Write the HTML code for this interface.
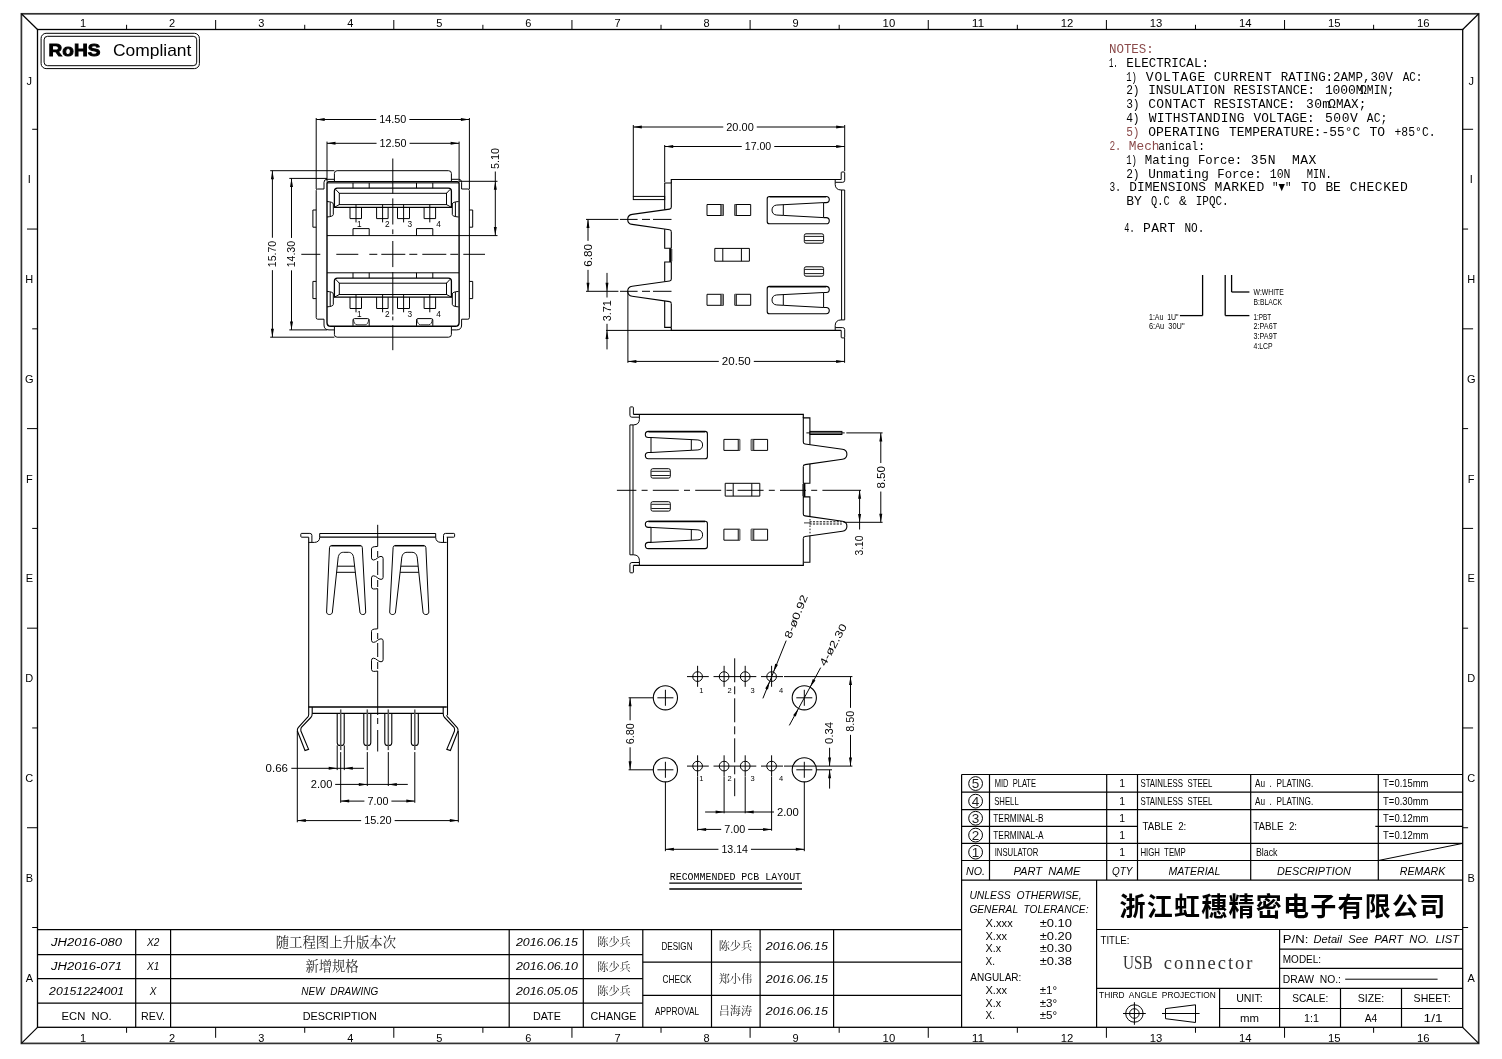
<!DOCTYPE html>
<html><head><meta charset="utf-8"><title>USB connector drawing</title>
<style>
html,body{margin:0;padding:0;background:#fff;}
body{width:1502px;height:1059px;overflow:hidden;}
svg{display:block;will-change:transform;opacity:0.999;}
svg .ar{fill:#000;stroke:none;}
svg text{font-family:"Liberation Sans",sans-serif;fill:#000;stroke:none;white-space:pre;}
svg .d{font-family:"Liberation Sans",sans-serif;}
svg .m{font-family:"Liberation Mono",monospace;}
svg .i{font-style:italic;}
svg .s{font-family:"Liberation Serif","Noto Serif CJK SC",serif;}
svg .c{font-family:"Liberation Serif","Noto Serif CJK SC",serif;fill:#222;}
svg .k{font-family:"Liberation Sans","Noto Sans CJK SC",sans-serif;font-weight:bold;}
svg .b{font-weight:bold;}
</style></head><body>
<svg width="1502" height="1059" viewBox="0 0 1502 1059">
<g stroke="#000" stroke-width="1" fill="none">
<g id="frame">
<rect x="21.4" y="13.8" width="1457.3" height="1029.6" style="stroke:#333;stroke-width:1.7"/>
<rect x="37.5" y="29.5" width="1425.2" height="997.8" stroke-width="1.3"/>
<line x1="21.4" y1="13.8" x2="37.5" y2="29.5" stroke-width="1.2"/>
<line x1="1478.7" y1="13.8" x2="1462.7" y2="29.5" stroke-width="1.2"/>
<line x1="21.4" y1="1043.4" x2="37.5" y2="1027.3" stroke-width="1.2"/>
<line x1="1478.7" y1="1043.4" x2="1462.7" y2="1027.3" stroke-width="1.2"/>
<line x1="126.58" y1="24.8" x2="126.58" y2="29.5"/>
<line x1="126.58" y1="1027.3" x2="126.58" y2="1032.8"/>
<line x1="215.65" y1="20" x2="215.65" y2="29.5"/>
<line x1="215.65" y1="1027.3" x2="215.65" y2="1037.8"/>
<line x1="304.73" y1="24.8" x2="304.73" y2="29.5"/>
<line x1="304.73" y1="1027.3" x2="304.73" y2="1032.8"/>
<line x1="393.8" y1="20" x2="393.8" y2="29.5"/>
<line x1="393.8" y1="1027.3" x2="393.8" y2="1037.8"/>
<line x1="482.88" y1="24.8" x2="482.88" y2="29.5"/>
<line x1="482.88" y1="1027.3" x2="482.88" y2="1032.8"/>
<line x1="571.95" y1="20" x2="571.95" y2="29.5"/>
<line x1="571.95" y1="1027.3" x2="571.95" y2="1037.8"/>
<line x1="661.02" y1="24.8" x2="661.02" y2="29.5"/>
<line x1="661.02" y1="1027.3" x2="661.02" y2="1032.8"/>
<line x1="750.1" y1="20" x2="750.1" y2="29.5"/>
<line x1="750.1" y1="1027.3" x2="750.1" y2="1037.8"/>
<line x1="839.18" y1="24.8" x2="839.18" y2="29.5"/>
<line x1="839.18" y1="1027.3" x2="839.18" y2="1032.8"/>
<line x1="928.25" y1="20" x2="928.25" y2="29.5"/>
<line x1="928.25" y1="1027.3" x2="928.25" y2="1037.8"/>
<line x1="1017.33" y1="24.8" x2="1017.33" y2="29.5"/>
<line x1="1017.33" y1="1027.3" x2="1017.33" y2="1032.8"/>
<line x1="1106.4" y1="20" x2="1106.4" y2="29.5"/>
<line x1="1106.4" y1="1027.3" x2="1106.4" y2="1037.8"/>
<line x1="1195.48" y1="24.8" x2="1195.48" y2="29.5"/>
<line x1="1195.48" y1="1027.3" x2="1195.48" y2="1032.8"/>
<line x1="1284.55" y1="20" x2="1284.55" y2="29.5"/>
<line x1="1284.55" y1="1027.3" x2="1284.55" y2="1037.8"/>
<line x1="1373.62" y1="24.8" x2="1373.62" y2="29.5"/>
<line x1="1373.62" y1="1027.3" x2="1373.62" y2="1032.8"/>
<text x="83.04" y="27.3" font-size="11" text-anchor="middle">1</text>
<text x="83.04" y="1041.8" font-size="11" text-anchor="middle">1</text>
<text x="172.11" y="27.3" font-size="11" text-anchor="middle">2</text>
<text x="172.11" y="1041.8" font-size="11" text-anchor="middle">2</text>
<text x="261.19" y="27.3" font-size="11" text-anchor="middle">3</text>
<text x="261.19" y="1041.8" font-size="11" text-anchor="middle">3</text>
<text x="350.26" y="27.3" font-size="11" text-anchor="middle">4</text>
<text x="350.26" y="1041.8" font-size="11" text-anchor="middle">4</text>
<text x="439.34" y="27.3" font-size="11" text-anchor="middle">5</text>
<text x="439.34" y="1041.8" font-size="11" text-anchor="middle">5</text>
<text x="528.41" y="27.3" font-size="11" text-anchor="middle">6</text>
<text x="528.41" y="1041.8" font-size="11" text-anchor="middle">6</text>
<text x="617.49" y="27.3" font-size="11" text-anchor="middle">7</text>
<text x="617.49" y="1041.8" font-size="11" text-anchor="middle">7</text>
<text x="706.56" y="27.3" font-size="11" text-anchor="middle">8</text>
<text x="706.56" y="1041.8" font-size="11" text-anchor="middle">8</text>
<text x="795.64" y="27.3" font-size="11" text-anchor="middle">9</text>
<text x="795.64" y="1041.8" font-size="11" text-anchor="middle">9</text>
<text x="888.91" y="27.3" font-size="11" text-anchor="middle" textLength="12.6" lengthAdjust="spacingAndGlyphs">10</text>
<text x="888.91" y="1041.8" font-size="11" text-anchor="middle" textLength="12.6" lengthAdjust="spacingAndGlyphs">10</text>
<text x="977.99" y="27.3" font-size="11" text-anchor="middle" textLength="12.6" lengthAdjust="spacingAndGlyphs">11</text>
<text x="977.99" y="1041.8" font-size="11" text-anchor="middle" textLength="12.6" lengthAdjust="spacingAndGlyphs">11</text>
<text x="1067.06" y="27.3" font-size="11" text-anchor="middle" textLength="12.6" lengthAdjust="spacingAndGlyphs">12</text>
<text x="1067.06" y="1041.8" font-size="11" text-anchor="middle" textLength="12.6" lengthAdjust="spacingAndGlyphs">12</text>
<text x="1156.14" y="27.3" font-size="11" text-anchor="middle" textLength="12.6" lengthAdjust="spacingAndGlyphs">13</text>
<text x="1156.14" y="1041.8" font-size="11" text-anchor="middle" textLength="12.6" lengthAdjust="spacingAndGlyphs">13</text>
<text x="1245.21" y="27.3" font-size="11" text-anchor="middle" textLength="12.6" lengthAdjust="spacingAndGlyphs">14</text>
<text x="1245.21" y="1041.8" font-size="11" text-anchor="middle" textLength="12.6" lengthAdjust="spacingAndGlyphs">14</text>
<text x="1334.29" y="27.3" font-size="11" text-anchor="middle" textLength="12.6" lengthAdjust="spacingAndGlyphs">15</text>
<text x="1334.29" y="1041.8" font-size="11" text-anchor="middle" textLength="12.6" lengthAdjust="spacingAndGlyphs">15</text>
<text x="1423.36" y="27.3" font-size="11" text-anchor="middle" textLength="12.6" lengthAdjust="spacingAndGlyphs">16</text>
<text x="1423.36" y="1041.8" font-size="11" text-anchor="middle" textLength="12.6" lengthAdjust="spacingAndGlyphs">16</text>
<line x1="32.2" y1="129.28" x2="37.5" y2="129.28"/>
<line x1="1462.7" y1="129.28" x2="1473.1" y2="129.28"/>
<line x1="27" y1="229.06" x2="37.5" y2="229.06"/>
<line x1="1462.7" y1="229.06" x2="1468.1" y2="229.06"/>
<line x1="32.2" y1="328.84" x2="37.5" y2="328.84"/>
<line x1="1462.7" y1="328.84" x2="1473.1" y2="328.84"/>
<line x1="27" y1="428.62" x2="37.5" y2="428.62"/>
<line x1="1462.7" y1="428.62" x2="1468.1" y2="428.62"/>
<line x1="32.2" y1="528.4" x2="37.5" y2="528.4"/>
<line x1="1462.7" y1="528.4" x2="1473.1" y2="528.4"/>
<line x1="27" y1="628.18" x2="37.5" y2="628.18"/>
<line x1="1462.7" y1="628.18" x2="1468.1" y2="628.18"/>
<line x1="32.2" y1="727.96" x2="37.5" y2="727.96"/>
<line x1="1462.7" y1="727.96" x2="1473.1" y2="727.96"/>
<line x1="27" y1="827.74" x2="37.5" y2="827.74"/>
<line x1="1462.7" y1="827.74" x2="1468.1" y2="827.74"/>
<line x1="32.2" y1="927.52" x2="37.5" y2="927.52"/>
<line x1="1462.7" y1="927.52" x2="1468.1" y2="927.52"/>
<text x="29.3" y="84.89" font-size="11" text-anchor="middle">J</text>
<text x="1471.2" y="84.89" font-size="11" text-anchor="middle">J</text>
<text x="29.3" y="183.37" font-size="11" text-anchor="middle">I</text>
<text x="1471.2" y="183.37" font-size="11" text-anchor="middle">I</text>
<text x="29.3" y="283.15" font-size="11" text-anchor="middle">H</text>
<text x="1471.2" y="283.15" font-size="11" text-anchor="middle">H</text>
<text x="29.3" y="382.93" font-size="11" text-anchor="middle">G</text>
<text x="1471.2" y="382.93" font-size="11" text-anchor="middle">G</text>
<text x="29.3" y="482.71" font-size="11" text-anchor="middle">F</text>
<text x="1471.2" y="482.71" font-size="11" text-anchor="middle">F</text>
<text x="29.3" y="582.49" font-size="11" text-anchor="middle">E</text>
<text x="1471.2" y="582.49" font-size="11" text-anchor="middle">E</text>
<text x="29.3" y="682.27" font-size="11" text-anchor="middle">D</text>
<text x="1471.2" y="682.27" font-size="11" text-anchor="middle">D</text>
<text x="29.3" y="782.05" font-size="11" text-anchor="middle">C</text>
<text x="1471.2" y="782.05" font-size="11" text-anchor="middle">C</text>
<text x="29.3" y="881.83" font-size="11" text-anchor="middle">B</text>
<text x="1471.2" y="881.83" font-size="11" text-anchor="middle">B</text>
<text x="29.3" y="981.61" font-size="11" text-anchor="middle">A</text>
<text x="1471.2" y="981.61" font-size="11" text-anchor="middle">A</text>
</g>
<g id="rohs">
<rect x="41.1" y="33.3" width="158.3" height="35.3" rx="5"/>
<rect x="44.1" y="36.3" width="152.6" height="29.4" rx="3.5"/>
<text x="48.6" y="55.8" font-size="17" class="b" textLength="51.8" lengthAdjust="spacingAndGlyphs" style="font-weight:900;stroke:#000;stroke-width:0.9px">RoHS</text>
<text x="112.9" y="55.8" font-size="17" textLength="78.5" lengthAdjust="spacingAndGlyphs">Compliant</text>
</g>
<g id="rev">
<line x1="37.5" y1="929.6" x2="961.6" y2="929.6" stroke-width="1.2"/>
<line x1="37.5" y1="954.6" x2="642.8" y2="954.6" stroke-width="1.2"/>
<line x1="37.5" y1="978.7" x2="642.8" y2="978.7" stroke-width="1.2"/>
<line x1="37.5" y1="1003.2" x2="642.8" y2="1003.2" stroke-width="1.2"/>
<line x1="135.7" y1="929.6" x2="135.7" y2="1027.3" stroke-width="1.2"/>
<line x1="170.6" y1="929.6" x2="170.6" y2="1027.3" stroke-width="1.2"/>
<line x1="509.2" y1="929.6" x2="509.2" y2="1027.3" stroke-width="1.2"/>
<line x1="583.3" y1="929.6" x2="583.3" y2="1027.3" stroke-width="1.2"/>
<line x1="642.8" y1="929.6" x2="642.8" y2="1027.3" stroke-width="1.2"/>
<line x1="711.5" y1="929.6" x2="711.5" y2="1027.3" stroke-width="1.2"/>
<line x1="760.1" y1="929.6" x2="760.1" y2="1027.3" stroke-width="1.2"/>
<line x1="833.6" y1="929.6" x2="833.6" y2="1027.3" stroke-width="1.2"/>
<line x1="642.8" y1="962.2" x2="961.6" y2="962.2" stroke-width="1.2"/>
<line x1="642.8" y1="995.4" x2="961.6" y2="995.4" stroke-width="1.2"/>
<text x="86.6" y="945.9" font-size="10" text-anchor="middle" class="i" textLength="71" lengthAdjust="spacingAndGlyphs">JH2016-080</text>
<text x="153.1" y="945.9" font-size="10" text-anchor="middle" class="i">X2</text>
<text x="335.9" y="946.9" font-size="13.4" text-anchor="middle" class="c" textLength="120.5" lengthAdjust="spacingAndGlyphs">随工程图上升版本次</text>
<text x="546.9" y="945.9" font-size="10" text-anchor="middle" class="i" textLength="62" lengthAdjust="spacingAndGlyphs">2016.06.15</text>
<text x="614" y="946.4" font-size="11.3" text-anchor="middle" class="c" textLength="33.5" lengthAdjust="spacingAndGlyphs">陈少兵</text>
<text x="86.6" y="970" font-size="10" text-anchor="middle" class="i" textLength="71" lengthAdjust="spacingAndGlyphs">JH2016-071</text>
<text x="153.1" y="970" font-size="10" text-anchor="middle" class="i">X1</text>
<text x="332" y="971" font-size="13.4" text-anchor="middle" class="c" textLength="53.2" lengthAdjust="spacingAndGlyphs">新增规格</text>
<text x="546.9" y="970" font-size="10" text-anchor="middle" class="i" textLength="62" lengthAdjust="spacingAndGlyphs">2016.06.10</text>
<text x="614" y="970.5" font-size="11.3" text-anchor="middle" class="c" textLength="33.5" lengthAdjust="spacingAndGlyphs">陈少兵</text>
<text x="86.6" y="994.5" font-size="10" text-anchor="middle" class="i" textLength="75" lengthAdjust="spacingAndGlyphs">20151224001</text>
<text x="153.1" y="994.5" font-size="10" text-anchor="middle" class="i">X</text>
<text x="339.8" y="994.5" font-size="10" text-anchor="middle" class="i" textLength="77" lengthAdjust="spacingAndGlyphs">NEW  DRAWING</text>
<text x="546.9" y="994.5" font-size="10" text-anchor="middle" class="i" textLength="62" lengthAdjust="spacingAndGlyphs">2016.05.05</text>
<text x="614" y="995" font-size="11.3" text-anchor="middle" class="c" textLength="33.5" lengthAdjust="spacingAndGlyphs">陈少兵</text>
<text x="86.6" y="1019.5" font-size="10.5" text-anchor="middle" textLength="50" lengthAdjust="spacingAndGlyphs">ECN  NO.</text>
<text x="153.1" y="1019.5" font-size="10.5" text-anchor="middle" textLength="24" lengthAdjust="spacingAndGlyphs">REV.</text>
<text x="339.8" y="1019.5" font-size="10.5" text-anchor="middle" textLength="74" lengthAdjust="spacingAndGlyphs">DESCRIPTION</text>
<text x="546.9" y="1019.5" font-size="10.5" text-anchor="middle" textLength="28" lengthAdjust="spacingAndGlyphs">DATE</text>
<text x="613.5" y="1019.5" font-size="10.5" text-anchor="middle" textLength="46" lengthAdjust="spacingAndGlyphs">CHANGE</text>
<text x="677" y="949.6" font-size="10.5" text-anchor="middle" textLength="31" lengthAdjust="spacingAndGlyphs">DESIGN</text>
<text x="735.4" y="949.6" font-size="11.3" text-anchor="middle" class="c" textLength="33.5" lengthAdjust="spacingAndGlyphs">陈少兵</text>
<text x="796.8" y="949.6" font-size="10" text-anchor="middle" class="i" textLength="62" lengthAdjust="spacingAndGlyphs">2016.06.15</text>
<text x="677" y="982.5" font-size="10.5" text-anchor="middle" textLength="29" lengthAdjust="spacingAndGlyphs">CHECK</text>
<text x="735.4" y="982.5" font-size="11.3" text-anchor="middle" class="c" textLength="33.5" lengthAdjust="spacingAndGlyphs">郑小伟</text>
<text x="796.8" y="982.5" font-size="10" text-anchor="middle" class="i" textLength="62" lengthAdjust="spacingAndGlyphs">2016.06.15</text>
<text x="677" y="1015" font-size="10.5" text-anchor="middle" textLength="44" lengthAdjust="spacingAndGlyphs">APPROVAL</text>
<text x="735.4" y="1015" font-size="11.3" text-anchor="middle" class="c" textLength="33.5" lengthAdjust="spacingAndGlyphs">吕海涛</text>
<text x="796.8" y="1015" font-size="10" text-anchor="middle" class="i" textLength="62" lengthAdjust="spacingAndGlyphs">2016.06.15</text>
</g>
<g id="bom">
<line x1="961.6" y1="774.5" x2="1462.7" y2="774.5" stroke-width="1.2"/>
<line x1="961.6" y1="774.5" x2="961.6" y2="1027.3" stroke-width="1.2"/>
<line x1="961.6" y1="792.2" x2="1462.7" y2="792.2" stroke-width="1.2"/>
<line x1="961.6" y1="809.7" x2="1462.7" y2="809.7" stroke-width="1.2"/>
<line x1="961.6" y1="826.4" x2="1137.5" y2="826.4" stroke-width="1.2"/>
<line x1="1375.3" y1="826.4" x2="1462.7" y2="826.4" stroke-width="1.2"/>
<line x1="961.6" y1="843.4" x2="1462.7" y2="843.4" stroke-width="1.2"/>
<line x1="961.6" y1="860.5" x2="1462.7" y2="860.5" stroke-width="1.2"/>
<line x1="961.6" y1="880.1" x2="1462.7" y2="880.1" stroke-width="1.2"/>
<line x1="989.5" y1="774.5" x2="989.5" y2="880.1" stroke-width="1.2"/>
<line x1="1106.7" y1="774.5" x2="1106.7" y2="880.1" stroke-width="1.2"/>
<line x1="1137.5" y1="774.5" x2="1137.5" y2="880.1" stroke-width="1.2"/>
<line x1="1250.7" y1="774.5" x2="1250.7" y2="880.1" stroke-width="1.2"/>
<line x1="1378.3" y1="774.5" x2="1378.3" y2="880.1" stroke-width="1.2"/>
<line x1="1378.3" y1="860.5" x2="1462.7" y2="843.4"/>
<circle cx="975.6" cy="783.55" r="6.9"/>
<text x="975.6" y="788.25" font-size="13.5" text-anchor="middle" class="lt" style="fill:#222">5</text>
<text x="994.7" y="787.15" font-size="10.5" textLength="41.3" lengthAdjust="spacingAndGlyphs">MID  PLATE</text>
<text x="1122.2" y="787.15" font-size="10.5" text-anchor="middle">1</text>
<circle cx="975.6" cy="801.15" r="6.9"/>
<text x="975.6" y="805.85" font-size="13.5" text-anchor="middle" class="lt" style="fill:#222">4</text>
<text x="994.2" y="804.75" font-size="10.5" textLength="24.5" lengthAdjust="spacingAndGlyphs">SHELL</text>
<text x="1122.2" y="804.75" font-size="10.5" text-anchor="middle">1</text>
<circle cx="975.6" cy="818.25" r="6.9"/>
<text x="975.6" y="822.95" font-size="13.5" text-anchor="middle" class="lt" style="fill:#222">3</text>
<text x="993.3" y="821.85" font-size="10.5" textLength="50.2" lengthAdjust="spacingAndGlyphs">TERMINAL-B</text>
<text x="1122.2" y="821.85" font-size="10.5" text-anchor="middle">1</text>
<circle cx="975.6" cy="835.1" r="6.9"/>
<text x="975.6" y="839.8" font-size="13.5" text-anchor="middle" class="lt" style="fill:#222">2</text>
<text x="993.3" y="838.7" font-size="10.5" textLength="50.2" lengthAdjust="spacingAndGlyphs">TERMINAL-A</text>
<text x="1122.2" y="838.7" font-size="10.5" text-anchor="middle">1</text>
<circle cx="975.6" cy="852.15" r="6.9"/>
<text x="975.6" y="856.85" font-size="13.5" text-anchor="middle" class="lt" style="fill:#222">1</text>
<text x="994.7" y="855.75" font-size="10.5" textLength="43.6" lengthAdjust="spacingAndGlyphs">INSULATOR</text>
<text x="1122.2" y="855.75" font-size="10.5" text-anchor="middle">1</text>
<text x="1140.4" y="787.3" font-size="10.5" textLength="72" lengthAdjust="spacingAndGlyphs">STAINLESS  STEEL</text>
<text x="1140.4" y="804.8" font-size="10.5" textLength="72" lengthAdjust="spacingAndGlyphs">STAINLESS  STEEL</text>
<text x="1142.5" y="830" font-size="10" textLength="43.8" lengthAdjust="spacingAndGlyphs">TABLE  2:</text>
<text x="1140.4" y="855.8" font-size="10.5" textLength="45.4" lengthAdjust="spacingAndGlyphs">HIGH  TEMP</text>
<text x="1255" y="787.3" font-size="10.5" textLength="58.3" lengthAdjust="spacingAndGlyphs">Au  .  PLATING.</text>
<text x="1255" y="804.8" font-size="10.5" textLength="58.3" lengthAdjust="spacingAndGlyphs">Au  .  PLATING.</text>
<text x="1253.3" y="830" font-size="10" textLength="43.8" lengthAdjust="spacingAndGlyphs">TABLE  2:</text>
<text x="1255.9" y="855.8" font-size="10.5" textLength="21.6" lengthAdjust="spacingAndGlyphs">Black</text>
<text x="1383.1" y="787.15" font-size="10.5" textLength="45.4" lengthAdjust="spacingAndGlyphs">T=0.15mm</text>
<text x="1383.1" y="804.75" font-size="10.5" textLength="45.4" lengthAdjust="spacingAndGlyphs">T=0.30mm</text>
<text x="1383.1" y="821.85" font-size="10.5" textLength="45.4" lengthAdjust="spacingAndGlyphs">T=0.12mm</text>
<text x="1383.1" y="838.7" font-size="10.5" textLength="45.4" lengthAdjust="spacingAndGlyphs">T=0.12mm</text>
<text x="975.6" y="874.8" font-size="11" text-anchor="middle" class="i" textLength="19" lengthAdjust="spacingAndGlyphs">NO.</text>
<text x="1046.9" y="874.8" font-size="11" text-anchor="middle" class="i" textLength="67" lengthAdjust="spacingAndGlyphs">PART  NAME</text>
<text x="1122.2" y="874.8" font-size="11" text-anchor="middle" class="i" textLength="20.5" lengthAdjust="spacingAndGlyphs">QTY</text>
<text x="1194.5" y="874.8" font-size="11" text-anchor="middle" class="i" textLength="52" lengthAdjust="spacingAndGlyphs">MATERIAL</text>
<text x="1313.9" y="874.8" font-size="11" text-anchor="middle" class="i" textLength="74" lengthAdjust="spacingAndGlyphs">DESCRIPTION</text>
<text x="1422.6" y="874.8" font-size="11" text-anchor="middle" class="i" textLength="45.5" lengthAdjust="spacingAndGlyphs">REMARK</text>
</g>
<g id="title">
<line x1="1096.6" y1="880.1" x2="1096.6" y2="1027.3" stroke-width="1.2"/>
<line x1="1096.6" y1="929.5" x2="1462.7" y2="929.5" stroke-width="1.2"/>
<line x1="1279.6" y1="929.5" x2="1279.6" y2="1027.3" stroke-width="1.2"/>
<line x1="1279.6" y1="949.2" x2="1462.7" y2="949.2" stroke-width="1.2"/>
<line x1="1279.6" y1="968.4" x2="1462.7" y2="968.4" stroke-width="1.2"/>
<line x1="1096.6" y1="988.4" x2="1462.7" y2="988.4" stroke-width="1.2"/>
<line x1="1219.6" y1="988.4" x2="1219.6" y2="1027.3" stroke-width="1.2"/>
<line x1="1219.6" y1="1008.5" x2="1462.7" y2="1008.5" stroke-width="1.2"/>
<line x1="1340.5" y1="988.4" x2="1340.5" y2="1027.3" stroke-width="1.2"/>
<line x1="1401.5" y1="988.4" x2="1401.5" y2="1027.3" stroke-width="1.2"/>
<text x="1119.6" y="915.9" font-size="26" class="k" textLength="325.6" lengthAdjust="spacing">浙江虹穗精密电子有限公司</text>
<text x="969.4" y="899" font-size="11" class="i" textLength="112.2" lengthAdjust="spacingAndGlyphs">UNLESS  OTHERWISE,</text>
<text x="969.4" y="912.5" font-size="11" class="i" textLength="119.1" lengthAdjust="spacingAndGlyphs">GENERAL  TOLERANCE:</text>
<text x="985.5" y="926.7" font-size="10.5" textLength="27.2" lengthAdjust="spacingAndGlyphs">X.xxx</text>
<text x="1039.7" y="926.7" font-size="10.5" textLength="32.3" lengthAdjust="spacingAndGlyphs">±0.10</text>
<text x="985.5" y="940.2" font-size="10.5" textLength="21.5" lengthAdjust="spacingAndGlyphs">X.xx</text>
<text x="1039.7" y="940.2" font-size="10.5" textLength="32.3" lengthAdjust="spacingAndGlyphs">±0.20</text>
<text x="985.5" y="952.4" font-size="10.5" textLength="15.5" lengthAdjust="spacingAndGlyphs">X.x</text>
<text x="1039.7" y="952.4" font-size="10.5" textLength="32.3" lengthAdjust="spacingAndGlyphs">±0.30</text>
<text x="985.5" y="964.7" font-size="10.5" textLength="9.5" lengthAdjust="spacingAndGlyphs">X.</text>
<text x="1039.7" y="964.7" font-size="10.5" textLength="32.3" lengthAdjust="spacingAndGlyphs">±0.38</text>
<text x="970.3" y="980.9" font-size="10.5" textLength="51" lengthAdjust="spacingAndGlyphs">ANGULAR:</text>
<text x="985.5" y="994.1" font-size="10.5" textLength="21.5" lengthAdjust="spacingAndGlyphs">X.xx</text>
<text x="1039.7" y="994.1" font-size="10.5" textLength="17.5" lengthAdjust="spacingAndGlyphs">±1°</text>
<text x="985.5" y="1006.6" font-size="10.5" textLength="15.5" lengthAdjust="spacingAndGlyphs">X.x</text>
<text x="1039.7" y="1006.6" font-size="10.5" textLength="17.5" lengthAdjust="spacingAndGlyphs">±3°</text>
<text x="985.5" y="1019" font-size="10.5" textLength="9.5" lengthAdjust="spacingAndGlyphs">X.</text>
<text x="1039.7" y="1019" font-size="10.5" textLength="17.5" lengthAdjust="spacingAndGlyphs">±5°</text>
<text x="1100.5" y="943.8" font-size="10" textLength="29" lengthAdjust="spacingAndGlyphs">TITLE:</text>
<text x="1123" y="968.6" font-size="18.5" class="s" textLength="29.6" lengthAdjust="spacingAndGlyphs" style="fill:#333">USB</text>
<text x="1163.8" y="968.6" font-size="18.5" class="s" textLength="88.6" lengthAdjust="spacing" style="fill:#333">connector</text>
<text x="1099.1" y="998" font-size="8.4" textLength="116.7" lengthAdjust="spacingAndGlyphs">THIRD  ANGLE  PROJECTION</text>
<circle cx="1134.4" cy="1013.5" r="8.7"/>
<circle cx="1134.4" cy="1013.5" r="4.8"/>
<line x1="1123" y1="1013.5" x2="1145.8" y2="1013.5"/>
<line x1="1134.4" y1="1002.2" x2="1134.4" y2="1024.8"/>
<path d="M1165.5,1008.6 L1195.5,1004.8 L1195.5,1022.5 L1165.5,1018.7Z"/>
<line x1="1162" y1="1013.5" x2="1199.6" y2="1013.5"/>
<text x="1282.8" y="943.3" font-size="10.5" textLength="25.5" lengthAdjust="spacingAndGlyphs">P/N:</text>
<text x="1313.5" y="943.3" font-size="10.5" class="i" textLength="145.5" lengthAdjust="spacingAndGlyphs">Detail  See  PART  NO.  LIST</text>
<text x="1282.8" y="963.2" font-size="10.5" textLength="38.3" lengthAdjust="spacingAndGlyphs">MODEL:</text>
<text x="1282.8" y="982.6" font-size="10.5" textLength="58.2" lengthAdjust="spacingAndGlyphs">DRAW  NO.:</text>
<line x1="1345.2" y1="979.2" x2="1437.6" y2="979.2"/>
<text x="1249.4" y="1001.9" font-size="10.5" text-anchor="middle" textLength="26.5" lengthAdjust="spacingAndGlyphs">UNIT:</text>
<text x="1249.4" y="1021.8" font-size="10.5" text-anchor="middle" textLength="19" lengthAdjust="spacingAndGlyphs">mm</text>
<text x="1310.3" y="1002" font-size="10.5" text-anchor="middle" textLength="36" lengthAdjust="spacingAndGlyphs">SCALE:</text>
<text x="1371" y="1002" font-size="10.5" text-anchor="middle" textLength="26.5" lengthAdjust="spacingAndGlyphs">SIZE:</text>
<text x="1432.1" y="1002" font-size="10.5" text-anchor="middle" textLength="37" lengthAdjust="spacingAndGlyphs">SHEET:</text>
<text x="1311.6" y="1022" font-size="10.5" text-anchor="middle" textLength="15" lengthAdjust="spacingAndGlyphs">1:1</text>
<text x="1371" y="1022" font-size="10.5" text-anchor="middle" textLength="12.5" lengthAdjust="spacingAndGlyphs">A4</text>
<text x="1433.1" y="1022" font-size="10.5" text-anchor="middle" textLength="19" lengthAdjust="spacingAndGlyphs">1/1</text>
</g>
<g id="front">
<path d="M334.4,181.3 V173.4 Q334.4,170.7 337.1,170.7 H448.5 Q451.4,170.7 451.4,173.4 V181.3"/>
<path d="M334.4,326.2 V334.5 Q334.4,337.2 337.1,337.2 H448.5 Q451.4,337.2 451.4,334.5 V326.2"/>
<path d="M324,189 V182.3 Q324,179.3 327,179.3 H334.4"/>
<path d="M324,319.2 V325 Q324,329.9 329,329.9 H334.4"/>
<path d="M324,189 H317.7 Q316.2,189 316.2,190.5 V317.7 Q316.2,319.2 317.7,319.2 H324"/>
<path d="M316.2,210 H312.9 V227.2 H316.2"/>
<path d="M316.2,281.4 H312.9 V298.6 H316.2"/>
<path d="M461.6,189 V182.3 Q461.6,179.3 458.6,179.3 H451.2"/>
<path d="M461.6,319.2 V325 Q461.6,329.9 456.6,329.9 H451.2"/>
<path d="M461.6,189 H467.9 Q469.4,189 469.4,190.5 V317.7 Q469.4,319.2 467.9,319.2 H461.6"/>
<path d="M469.4,210 H472.7 V227.2 H469.4"/>
<path d="M469.4,281.4 H472.7 V298.6 H469.4"/>
<path d="M327,322.4 V183.6 Q327,181.6 329,181.6 H457.1 Q459.1,181.6 459.1,183.6 V322.4 Q459.1,326.2 455.3,326.2 H330.8 Q327,326.2 327,322.4" stroke-width="1.4"/>
<line x1="327" y1="182.9" x2="459.1" y2="182.9"/>
<line x1="353" y1="182.9" x2="353" y2="188.2"/>
<line x1="369.2" y1="182.9" x2="369.2" y2="188.2"/>
<path d="M353,235.6 V228.6 H369.2 V235.6"/>
<line x1="416.5" y1="182.9" x2="416.5" y2="188.2"/>
<line x1="432.8" y1="182.9" x2="432.8" y2="188.2"/>
<path d="M416.5,235.6 V228.6 H432.8 V235.6"/>
<path d="M334.4,207.3 V191.2 Q334.4,188.2 337.4,188.2 H448.4 Q451.4,188.2 451.4,191.2 V207.3 Z" stroke-width="1.3"/>
<rect x="339.3" y="193.3" width="107.2" height="11.3"/>
<line x1="339.3" y1="193.3" x2="335.6" y2="189.3"/>
<line x1="446.5" y1="193.3" x2="450.2" y2="189.3"/>
<line x1="339.3" y1="204.6" x2="334.4" y2="207.3"/>
<line x1="446.5" y1="204.6" x2="451.4" y2="207.3"/>
<path d="M327,201.5 Q333.3,202 333.3,204 V214.5 Q333.3,216.5 327,217"/>
<line x1="330.2" y1="202.2" x2="330.2" y2="216.5"/>
<path d="M458.6,201.5 Q452.3,202 452.3,204 V214.5 Q452.3,216.5 458.6,217"/>
<line x1="455.4" y1="202.2" x2="455.4" y2="216.5"/>
<path d="M350,207.3 V218.6 H361.5 V207.3"/>
<line x1="356" y1="204.6" x2="356" y2="222.4"/>
<text x="359.3" y="227.2" font-size="8.3" text-anchor="middle">1</text>
<path d="M376.6,207.3 V218.6 H388.1 V207.3"/>
<line x1="382.6" y1="204.6" x2="382.6" y2="222.4"/>
<text x="387.2" y="227.2" font-size="8.3" text-anchor="middle">2</text>
<path d="M397.5,207.3 V218.6 H409.5 V207.3"/>
<line x1="403.6" y1="204.6" x2="403.6" y2="222.4"/>
<text x="409.9" y="227.2" font-size="8.3" text-anchor="middle">3</text>
<path d="M424.1,207.3 V218.6 H435.6 V207.3"/>
<line x1="429.8" y1="204.6" x2="429.8" y2="222.4"/>
<text x="438.5" y="227.2" font-size="8.3" text-anchor="middle">4</text>
<line x1="327" y1="235.6" x2="459.1" y2="235.6"/>
<line x1="327" y1="272.8" x2="459.1" y2="272.8"/>
<line x1="353" y1="272.8" x2="353" y2="278.1"/>
<line x1="369.2" y1="272.8" x2="369.2" y2="278.1"/>
<path d="M353,325.9 V320.1 Q353,318.6 354.5,318.6 H367.7 Q369.2,318.6 369.2,320.1 V325.9"/>
<path d="M353.5,319.5 Q354,324.5 357,324.8 H365.2 Q368.2,324.5 368.7,319.5" stroke-width="0.8"/>
<line x1="416.5" y1="272.8" x2="416.5" y2="278.1"/>
<line x1="432.8" y1="272.8" x2="432.8" y2="278.1"/>
<path d="M416.5,325.9 V320.1 Q416.5,318.6 418,318.6 H431.3 Q432.8,318.6 432.8,320.1 V325.9"/>
<path d="M417,319.5 Q417.5,324.5 420.5,324.8 H428.8 Q431.8,324.5 432.3,319.5" stroke-width="0.8"/>
<path d="M334.4,297.2 V281.1 Q334.4,278.1 337.4,278.1 H448.4 Q451.4,278.1 451.4,281.1 V297.2 Z" stroke-width="1.3"/>
<rect x="339.3" y="283.2" width="107.2" height="11.3"/>
<line x1="339.3" y1="283.2" x2="335.6" y2="279.2"/>
<line x1="446.5" y1="283.2" x2="450.2" y2="279.2"/>
<line x1="339.3" y1="294.5" x2="334.4" y2="297.2"/>
<line x1="446.5" y1="294.5" x2="451.4" y2="297.2"/>
<path d="M327,291.4 Q333.3,291.9 333.3,293.9 V304.4 Q333.3,306.4 327,306.9"/>
<line x1="330.2" y1="292.1" x2="330.2" y2="306.4"/>
<path d="M458.6,291.4 Q452.3,291.9 452.3,293.9 V304.4 Q452.3,306.4 458.6,306.9"/>
<line x1="455.4" y1="292.1" x2="455.4" y2="306.4"/>
<path d="M350,297.2 V308.5 H361.5 V297.2"/>
<line x1="356" y1="294.5" x2="356" y2="312.3"/>
<text x="359.3" y="317.1" font-size="8.3" text-anchor="middle">1</text>
<path d="M376.6,297.2 V308.5 H388.1 V297.2"/>
<line x1="382.6" y1="294.5" x2="382.6" y2="312.3"/>
<text x="387.2" y="317.1" font-size="8.3" text-anchor="middle">2</text>
<path d="M397.5,297.2 V308.5 H409.5 V297.2"/>
<line x1="403.6" y1="294.5" x2="403.6" y2="312.3"/>
<text x="409.9" y="317.1" font-size="8.3" text-anchor="middle">3</text>
<path d="M424.1,297.2 V308.5 H435.6 V297.2"/>
<line x1="429.8" y1="294.5" x2="429.8" y2="312.3"/>
<text x="438.5" y="317.1" font-size="8.3" text-anchor="middle">4</text>
<line x1="392.8" y1="158.5" x2="392.8" y2="193.6"/>
<line x1="392.8" y1="198.4" x2="392.8" y2="224.5"/>
<line x1="392.8" y1="229.4" x2="392.8" y2="234.2"/>
<line x1="392.8" y1="241" x2="392.8" y2="267.1"/>
<line x1="392.8" y1="272" x2="392.8" y2="314.5"/>
<line x1="392.8" y1="316.5" x2="392.8" y2="320.3"/>
<line x1="392.8" y1="325.2" x2="392.8" y2="350.2"/>
<line x1="301.3" y1="254.3" x2="485" y2="254.3" stroke-dasharray="19 16 22 11 8 4 24 4 8 5 24 4 8 5 22 100"/>
<line x1="316.2" y1="118" x2="316.2" y2="189"/>
<line x1="469.4" y1="118" x2="469.4" y2="189"/>
<line x1="316.2" y1="119.5" x2="376.25" y2="119.5"/>
<line x1="409.35" y1="119.5" x2="469.4" y2="119.5"/>
<path class="ar" d="M316.2,119.5 L324.7,118 L324.7,121Z"/>
<path class="ar" d="M469.4,119.5 L460.9,121 L460.9,118Z"/>
<text x="392.8" y="123.28" font-size="10.5" text-anchor="middle" class="d" textLength="27.1" lengthAdjust="spacingAndGlyphs">14.50</text>
<line x1="327" y1="141.6" x2="327" y2="181.6"/>
<line x1="459.1" y1="141.6" x2="459.1" y2="181.6"/>
<line x1="327" y1="143.3" x2="376.55" y2="143.3"/>
<line x1="409.55" y1="143.3" x2="459.1" y2="143.3"/>
<path class="ar" d="M327,143.3 L335.5,141.8 L335.5,144.8Z"/>
<path class="ar" d="M459.1,143.3 L450.6,144.8 L450.6,141.8Z"/>
<text x="393.05" y="147.08" font-size="10.5" text-anchor="middle" class="d" textLength="27" lengthAdjust="spacingAndGlyphs">12.50</text>
<line x1="270.2" y1="170.7" x2="334.4" y2="170.7"/>
<line x1="270.2" y1="337.2" x2="334.4" y2="337.2"/>
<line x1="272.4" y1="170.7" x2="272.4" y2="237.75"/>
<line x1="272.4" y1="270.15" x2="272.4" y2="337.2"/>
<path class="ar" d="M272.4,170.7 L273.9,179.2 L270.9,179.2Z"/>
<path class="ar" d="M272.4,337.2 L270.9,328.7 L273.9,328.7Z"/>
<text x="276.18" y="253.95" font-size="10.5" text-anchor="middle" class="d" transform="rotate(-90 276.18 253.95)" textLength="26.4" lengthAdjust="spacingAndGlyphs">15.70</text>
<line x1="289.3" y1="178.4" x2="327" y2="178.4"/>
<line x1="289.3" y1="329.9" x2="327" y2="329.9"/>
<line x1="291.5" y1="178.4" x2="291.5" y2="237.95"/>
<line x1="291.5" y1="270.35" x2="291.5" y2="329.9"/>
<path class="ar" d="M291.5,178.4 L293,186.9 L290,186.9Z"/>
<path class="ar" d="M291.5,329.9 L290,321.4 L293,321.4Z"/>
<text x="295.28" y="254.15" font-size="10.5" text-anchor="middle" class="d" transform="rotate(-90 295.28 254.15)" textLength="26.4" lengthAdjust="spacingAndGlyphs">14.30</text>
<line x1="459.1" y1="181.3" x2="497.5" y2="181.3"/>
<line x1="459.1" y1="235.6" x2="497.5" y2="235.6"/>
<line x1="495.3" y1="171.5" x2="495.3" y2="235.6"/>
<path class="ar" d="M495.3,181.3 L496.8,189.8 L493.8,189.8Z"/>
<path class="ar" d="M495.3,235.6 L493.8,227.1 L496.8,227.1Z"/>
<text x="499.5" y="158.4" font-size="10.5" text-anchor="middle" class="d" transform="rotate(-90 499.5 158.4)" textLength="21" lengthAdjust="spacingAndGlyphs">5.10</text>
</g>
<g id="side1">
<path d="M671.3,183 L671.3,179.5 L841.2,179.5" stroke-width="1.2"/>
<path d="M671.3,327.4 L671.3,330.4 L841.2,330.4" stroke-width="1.2"/>
<path d="M841.2,179.5 L841.2,172.8 Q841.2,172 842,172 L843.9,172 Q844.7,172 844.7,172.8 L844.7,180.3 Q844.7,182.3 842.7,182.3 L835.4,182.3"/>
<path d="M835.2,179.5 L835.2,184.5 Q835.4,189.8 841,190 L844.7,190"/>
<path d="M841.2,330.4 L841.2,337.1 Q841.2,337.9 842,337.9 L843.9,337.9 Q844.7,337.9 844.7,337.1 L844.7,329.6 Q844.7,327.6 842.7,327.6 L835.4,327.6"/>
<path d="M835.2,330.4 L835.2,325.4 Q835.4,320.1 841,319.9 L844.7,319.9"/>
<path d="M841.6,190 L841.6,319.9"/>
<path d="M844.7,190 L844.7,319.9"/>
<path d="M671.3,207.1 Q671.3,208.9 669.6,209.1 L632.2,214.4 C626.2,215.2 626.2,223.6 632.2,224.4 L669.6,229.7 Q671.3,229.9 671.3,231.7" stroke-width="1.1"/>
<path d="M671.3,279 Q671.3,280.8 669.6,281 L632.2,286.3 C626.2,287.1 626.2,295.5 632.2,296.3 L669.6,301.6 Q671.3,301.8 671.3,303.6" stroke-width="1.1"/>
<path d="M664.7,209.8 L664.7,183 L671.3,183 L671.3,207.1" stroke-width="1.1"/>
<path d="M664.7,229.2 L664.7,248.3 L671.3,248.3 M671.3,231.7 L671.3,248.3" stroke-width="1.1"/>
<path d="M670.3,248.3 L670.3,262" stroke-width="2.2"/>
<path d="M671.8,249 L671.8,261.3" stroke-width="0.8"/>
<path d="M664.7,281.5 L664.7,262 L671.3,262 L671.3,279" stroke-width="1.1"/>
<path d="M664.7,301.1 L664.7,327.4 L671.3,327.4 M671.3,303.6 L671.3,327.4" stroke-width="1.1"/>
<path d="M707,204.5 L723.4,204.5 L723.4,215.5 L707,215.5 Z"/>
<rect x="720.8" y="204.5" width="2.6" height="11" style="fill:#888;stroke:none"/>
<path d="M720.8,204.5 L720.8,215.5" stroke-width="0.8"/>
<path d="M734.8,204.5 L750.7,204.5 L750.7,215.5 L734.8,215.5 Z"/>
<rect x="734.8" y="204.5" width="1.6" height="11" style="fill:#888;stroke:none"/>
<path d="M736.4,204.5 L736.4,215.5" stroke-width="0.8"/>
<path d="M707,294.3 L723.4,294.3 L723.4,305.3 L707,305.3 Z"/>
<rect x="720.8" y="294.3" width="2.6" height="11" style="fill:#888;stroke:none"/>
<path d="M720.8,294.3 L720.8,305.3" stroke-width="0.8"/>
<path d="M734.8,294.3 L750.7,294.3 L750.7,305.3 L734.8,305.3 Z"/>
<rect x="734.8" y="294.3" width="1.6" height="11" style="fill:#888;stroke:none"/>
<path d="M736.4,294.3 L736.4,305.3" stroke-width="0.8"/>
<path d="M714.8,248.4 L749.4,248.4 L749.4,261.2 L714.8,261.2 Z"/>
<path d="M722.8,248.4 L722.8,261.2"/>
<path d="M741.4,248.4 L741.4,261.2"/>
<path d="M806,233.8 L821.9,233.8 Q823.6,233.8 823.6,235.5 L823.6,241.5 Q823.6,243.2 821.9,243.2 L806,243.2 Q804.3,243.2 804.3,241.5 L804.3,235.5 Q804.3,233.8 806,233.8 Z"/>
<path d="M804.8,236.4 L823.2,236.4" stroke-width="0.9"/>
<path d="M804.8,240.6 L823.2,240.6" stroke-width="0.9"/>
<path d="M806,266.8 L821.9,266.8 Q823.6,266.8 823.6,268.5 L823.6,274.5 Q823.6,276.2 821.9,276.2 L806,276.2 Q804.3,276.2 804.3,274.5 L804.3,268.5 Q804.3,266.8 806,266.8 Z"/>
<path d="M804.8,269.4 L823.2,269.4" stroke-width="0.9"/>
<path d="M804.8,273.6 L823.2,273.6" stroke-width="0.9"/>
<path d="M823.6,202.6 L826.2,202.6 C830.3,202.6 830.3,196.5 826.2,196.5 L769.5,196.5 Q767.2,196.5 767.2,198.8 L767.2,221.5 Q767.2,223.8 769.5,223.8 L826.2,223.8 C830.3,223.8 830.3,217.6 826.2,217.6 L823.6,217.6" stroke-width="1.1"/>
<path d="M769.5,196.8 L826.2,196.8" stroke-width="1.5"/>
<path d="M823.6,202.6 L776.7,205.05 C773.6,205.2 772,207.4 772,210.05 C772,212.7 773.6,214.9 776.7,215.05 L783.3,215.4 L823.6,217.6 Z"/>
<path d="M783.3,204.7 L783.3,215.4"/>
<path d="M823.6,292.5 L826.2,292.5 C830.3,292.5 830.3,286.4 826.2,286.4 L769.5,286.4 Q767.2,286.4 767.2,288.7 L767.2,311.4 Q767.2,313.7 769.5,313.7 L826.2,313.7 C830.3,313.7 830.3,307.5 826.2,307.5 L823.6,307.5" stroke-width="1.1"/>
<path d="M769.5,286.7 L826.2,286.7" stroke-width="1.5"/>
<path d="M823.6,292.5 L776.7,294.95 C773.6,295.1 772,297.3 772,299.95 C772,302.6 773.6,304.8 776.7,304.95 L783.3,305.3 L823.6,307.5 Z"/>
<path d="M783.3,294.6 L783.3,305.3"/>
<rect x="633.3" y="196.4" width="31.4" height="3.2"/>
<line x1="633.3" y1="125" x2="633.3" y2="196.4"/>
<line x1="844.7" y1="125" x2="844.7" y2="171.2"/>
<line x1="633.3" y1="127" x2="723.25" y2="127"/>
<line x1="756.75" y1="127" x2="844.7" y2="127"/>
<path class="ar" d="M633.3,127 L641.8,125.5 L641.8,128.5Z"/>
<path class="ar" d="M844.7,127 L836.2,128.5 L836.2,125.5Z"/>
<text x="740" y="130.78" font-size="10.5" text-anchor="middle" class="d" textLength="27.5" lengthAdjust="spacingAndGlyphs">20.00</text>
<line x1="664.7" y1="145" x2="664.7" y2="182"/>
<line x1="664.7" y1="146.5" x2="741.75" y2="146.5"/>
<line x1="774.25" y1="146.5" x2="844.7" y2="146.5"/>
<path class="ar" d="M664.7,146.5 L673.2,145 L673.2,148Z"/>
<path class="ar" d="M844.7,146.5 L836.2,148 L836.2,145Z"/>
<text x="758" y="150.28" font-size="10.5" text-anchor="middle" class="d" textLength="26.5" lengthAdjust="spacingAndGlyphs">17.00</text>
<line x1="586" y1="219.4" x2="618.4" y2="219.4"/>
<line x1="620" y1="219.4" x2="671.5" y2="219.4" stroke-dasharray="17.6 4.4 8 3 30"/>
<line x1="586" y1="291.3" x2="618.4" y2="291.3"/>
<line x1="620" y1="291.3" x2="671.5" y2="291.3" stroke-dasharray="17.6 4.4 8 3 30"/>
<line x1="588" y1="219.4" x2="588" y2="240.85"/>
<line x1="588" y1="269.85" x2="588" y2="291.3"/>
<path class="ar" d="M588,219.4 L589.5,227.9 L586.5,227.9Z"/>
<path class="ar" d="M588,291.3 L586.5,282.8 L589.5,282.8Z"/>
<text x="591.78" y="255.35" font-size="10.5" text-anchor="middle" class="d" transform="rotate(-90 591.78 255.35)" textLength="23" lengthAdjust="spacingAndGlyphs">6.80</text>
<line x1="606" y1="330.4" x2="671.3" y2="330.4"/>
<line x1="607" y1="272.9" x2="607" y2="291.3"/>
<path class="ar" d="M607,291.3 L605.5,282.8 L608.5,282.8Z"/>
<line x1="607" y1="330.4" x2="607" y2="349.4"/>
<path class="ar" d="M607,330.4 L608.5,338.9 L605.5,338.9Z"/>
<line x1="607" y1="291.3" x2="607" y2="297.5"/>
<line x1="607" y1="323.8" x2="607" y2="330.4"/>
<text x="610.8" y="310.8" font-size="10.5" text-anchor="middle" class="d" transform="rotate(-90 610.8 310.8)" textLength="21" lengthAdjust="spacingAndGlyphs">3.71</text>
<line x1="627.9" y1="291.5" x2="627.9" y2="362.8"/>
<line x1="844.6" y1="337.8" x2="844.6" y2="362.8"/>
<line x1="627.9" y1="361.4" x2="718.8" y2="361.4"/>
<line x1="753.8" y1="361.4" x2="844.6" y2="361.4"/>
<path class="ar" d="M627.9,361.4 L636.4,359.9 L636.4,362.9Z"/>
<path class="ar" d="M844.6,361.4 L836.1,362.9 L836.1,359.9Z"/>
<text x="736.3" y="365.18" font-size="10.5" text-anchor="middle" class="d" textLength="29" lengthAdjust="spacingAndGlyphs">20.50</text>
</g>
<g id="side2">
<path d="M803.3,417.9 L803.3,414.4 L633.4,414.4" stroke-width="1.2"/>
<path d="M803.3,562.3 L803.3,565.3 L633.4,565.3" stroke-width="1.2"/>
<path d="M633.4,414.4 L633.4,407.7 Q633.4,406.9 632.6,406.9 L630.7,406.9 Q629.9,406.9 629.9,407.7 L629.9,415.2 Q629.9,417.2 631.9,417.2 L639.2,417.2"/>
<path d="M639.4,414.4 L639.4,419.4 Q639.2,424.7 633.6,424.9 L629.9,424.9"/>
<path d="M633.4,565.3 L633.4,572 Q633.4,572.8 632.6,572.8 L630.7,572.8 Q629.9,572.8 629.9,572 L629.9,564.5 Q629.9,562.5 631.9,562.5 L639.2,562.5"/>
<path d="M639.4,565.3 L639.4,560.3 Q639.2,555 633.6,554.8 L629.9,554.8"/>
<path d="M633,424.9 L633,554.8"/>
<path d="M629.9,424.9 L629.9,554.8"/>
<path d="M803.3,442 Q803.3,443.8 805,444 L842.4,449.3 C848.4,450.1 848.4,458.5 842.4,459.3 L805,464.6 Q803.3,464.8 803.3,466.6" stroke-width="1.1"/>
<path d="M803.3,513.9 Q803.3,515.7 805,515.9 L842.4,521.2 C848.4,522 848.4,530.4 842.4,531.2 L805,536.5 Q803.3,536.7 803.3,538.5" stroke-width="1.1"/>
<path d="M809.9,444.7 L809.9,417.9 L803.3,417.9 L803.3,442" stroke-width="1.1"/>
<path d="M809.9,464.1 L809.9,483.2 L803.3,483.2 M803.3,466.6 L803.3,483.2" stroke-width="1.1"/>
<path d="M804.3,483.2 L804.3,496.9" stroke-width="2.2"/>
<path d="M802.8,483.9 L802.8,496.2" stroke-width="0.8"/>
<path d="M809.9,516.4 L809.9,496.9 L803.3,496.9 L803.3,513.9" stroke-width="1.1"/>
<path d="M809.9,536 L809.9,562.3 L803.3,562.3 M803.3,538.5 L803.3,562.3" stroke-width="1.1"/>
<path d="M767.6,439.4 L751.2,439.4 L751.2,450.4 L767.6,450.4 Z"/>
<rect x="751.2" y="439.4" width="2.6" height="11" style="fill:#888;stroke:none"/>
<path d="M753.8,439.4 L753.8,450.4" stroke-width="0.8"/>
<path d="M739.8,439.4 L723.9,439.4 L723.9,450.4 L739.8,450.4 Z"/>
<rect x="738.2" y="439.4" width="1.6" height="11" style="fill:#888;stroke:none"/>
<path d="M738.2,439.4 L738.2,450.4" stroke-width="0.8"/>
<path d="M767.6,529.2 L751.2,529.2 L751.2,540.2 L767.6,540.2 Z"/>
<rect x="751.2" y="529.2" width="2.6" height="11" style="fill:#888;stroke:none"/>
<path d="M753.8,529.2 L753.8,540.2" stroke-width="0.8"/>
<path d="M739.8,529.2 L723.9,529.2 L723.9,540.2 L739.8,540.2 Z"/>
<rect x="738.2" y="529.2" width="1.6" height="11" style="fill:#888;stroke:none"/>
<path d="M738.2,529.2 L738.2,540.2" stroke-width="0.8"/>
<path d="M759.8,483.3 L725.2,483.3 L725.2,496.1 L759.8,496.1 Z"/>
<path d="M751.8,483.3 L751.8,496.1"/>
<path d="M733.2,483.3 L733.2,496.1"/>
<path d="M668.6,468.7 L652.7,468.7 Q651,468.7 651,470.4 L651,476.4 Q651,478.1 652.7,478.1 L668.6,478.1 Q670.3,478.1 670.3,476.4 L670.3,470.4 Q670.3,468.7 668.6,468.7 Z"/>
<path d="M669.8,471.3 L651.4,471.3" stroke-width="0.9"/>
<path d="M669.8,475.5 L651.4,475.5" stroke-width="0.9"/>
<path d="M668.6,501.7 L652.7,501.7 Q651,501.7 651,503.4 L651,509.4 Q651,511.1 652.7,511.1 L668.6,511.1 Q670.3,511.1 670.3,509.4 L670.3,503.4 Q670.3,501.7 668.6,501.7 Z"/>
<path d="M669.8,504.3 L651.4,504.3" stroke-width="0.9"/>
<path d="M669.8,508.5 L651.4,508.5" stroke-width="0.9"/>
<path d="M651,437.5 L648.4,437.5 C644.3,437.5 644.3,431.4 648.4,431.4 L705.1,431.4 Q707.4,431.4 707.4,433.7 L707.4,456.4 Q707.4,458.7 705.1,458.7 L648.4,458.7 C644.3,458.7 644.3,452.5 648.4,452.5 L651,452.5" stroke-width="1.1"/>
<path d="M705.1,431.7 L648.4,431.7" stroke-width="1.5"/>
<path d="M651,437.5 L697.9,439.95 C701,440.1 702.6,442.3 702.6,444.95 C702.6,447.6 701,449.8 697.9,449.95 L691.3,450.3 L651,452.5 Z"/>
<path d="M691.3,439.6 L691.3,450.3"/>
<path d="M651,527.4 L648.4,527.4 C644.3,527.4 644.3,521.3 648.4,521.3 L705.1,521.3 Q707.4,521.3 707.4,523.6 L707.4,546.3 Q707.4,548.6 705.1,548.6 L648.4,548.6 C644.3,548.6 644.3,542.4 648.4,542.4 L651,542.4" stroke-width="1.1"/>
<path d="M705.1,521.6 L648.4,521.6" stroke-width="1.5"/>
<path d="M651,527.4 L697.9,529.85 C701,530 702.6,532.2 702.6,534.85 C702.6,537.5 701,539.7 697.9,539.85 L691.3,540.2 L651,542.4 Z"/>
<path d="M691.3,529.5 L691.3,540.2"/>
<rect x="810" y="431.4" width="31.9" height="3.1" style="fill:#666;stroke:#000;stroke-width:1"/>
<line x1="806.4" y1="432.9" x2="810" y2="432.9"/>
<line x1="841.9" y1="432.9" x2="844.7" y2="432.9"/>
<line x1="846.3" y1="432.9" x2="882.6" y2="432.9"/>
<line x1="809.5" y1="521.8" x2="841.8" y2="521.8" stroke-dasharray="2.2 1.2"/>
<line x1="809.5" y1="524" x2="841.8" y2="524" stroke-dasharray="2.2 1.2"/>
<line x1="804" y1="522.9" x2="809.5" y2="522.9" stroke-width="0.8"/>
<line x1="843.5" y1="522.3" x2="882.6" y2="522.3"/>
<line x1="810" y1="519" x2="810" y2="535.5" stroke-width="0.9" stroke-dasharray="1.6 1.6"/>
<line x1="616.9" y1="490.3" x2="841" y2="490.3" stroke-dashoffset="6.5" stroke-dasharray="26 5.2 6 5.2"/>
<line x1="841" y1="490.3" x2="861" y2="490.3"/>
<line x1="880.8" y1="432.9" x2="880.8" y2="463.05"/>
<line x1="880.8" y1="491.55" x2="880.8" y2="522.3"/>
<path class="ar" d="M880.8,432.9 L882.3,441.4 L879.3,441.4Z"/>
<path class="ar" d="M880.8,522.3 L879.3,513.8 L882.3,513.8Z"/>
<text x="884.58" y="477.3" font-size="10.5" text-anchor="middle" class="d" transform="rotate(-90 884.58 477.3)" textLength="22.5" lengthAdjust="spacingAndGlyphs">8.50</text>
<line x1="859.6" y1="490.3" x2="859.6" y2="529.5"/>
<path class="ar" d="M859.6,490.3 L861.1,498.8 L858.1,498.8Z"/>
<path class="ar" d="M859.6,522.4 L858.1,513.9 L861.1,513.9Z"/>
<text x="863.4" y="545.5" font-size="10.5" text-anchor="middle" class="d" transform="rotate(-90 863.4 545.5)" textLength="20" lengthAdjust="spacingAndGlyphs">3.10</text>
</g>
<g id="bottom">
<line x1="308.7" y1="537.2" x2="308.7" y2="715" stroke-width="1.1"/>
<line x1="447.5" y1="537.2" x2="447.5" y2="715" stroke-width="1.1"/>
<line x1="319.7" y1="533.5" x2="435.7" y2="533.5" stroke-width="1.2"/>
<line x1="319.7" y1="537.1" x2="435.7" y2="537.1" stroke-width="1.2"/>
<path d="M308.7,537.2 H301.6 Q300.8,537.2 300.8,536.4 V534.2 Q300.8,533.4 301.6,533.4 H309.9 Q311.9,533.4 311.9,535.4 V542.4"/>
<path d="M308.7,542.4 H314.5 Q319.5,542.2 319.7,537.4 V533.5"/>
<path d="M329.5,547.6 Q329.6,545.7 331.4,545.7"/>
<path d="M331.2,545.7 H360.9" stroke-width="1.5"/>
<path d="M360.7,545.7 Q362.2,545.7 362.3,547.6"/>
<path d="M329.5,547.6 L326.6,612 C326.5,615.4 332.3,615.4 332.4,612 L337.9,560 C338.2,554.5 340,552.3 343.5,552.3 H348.3 C351.8,552.3 353.6,554.5 353.9,560 L359.9,612 C360,615.4 365.8,615.4 365.7,612 L362.3,547.6"/>
<line x1="337.3" y1="566.2" x2="354.6" y2="566.2"/>
<line x1="336.6" y1="572.3" x2="355.3" y2="572.3"/>
<path d="M308.6,715 Q308.6,716.5 307.4,717.5 L298.2,727.7 Q297.1,729 297.4,731 L305,750.5 L308.6,749.3 L300.9,731 Q300.5,729 301.4,727.3 L310.8,717.5 Q312.2,716 312.2,713.4 V707.1" stroke-width="1.1"/>
<path d="M446.7,537.2 H453.8 Q454.6,537.2 454.6,536.4 V534.2 Q454.6,533.4 453.8,533.4 H445.5 Q443.5,533.4 443.5,535.4 V542.4"/>
<path d="M446.7,542.4 H440.9 Q435.9,542.2 435.7,537.4 V533.5"/>
<path d="M425.9,547.6 Q425.8,545.7 424,545.7"/>
<path d="M424.2,545.7 H394.5" stroke-width="1.5"/>
<path d="M394.7,545.7 Q393.2,545.7 393.1,547.6"/>
<path d="M425.9,547.6 L428.8,612 C428.9,615.4 423.1,615.4 423,612 L417.5,560 C417.2,554.5 415.4,552.3 411.9,552.3 H407.1 C403.6,552.3 401.8,554.5 401.5,560 L395.5,612 C395.4,615.4 389.6,615.4 389.7,612 L393.1,547.6"/>
<line x1="418.1" y1="566.2" x2="400.8" y2="566.2"/>
<line x1="418.8" y1="572.3" x2="400.1" y2="572.3"/>
<path d="M446.8,715 Q446.8,716.5 448,717.5 L457.2,727.7 Q458.3,729 458,731 L450.4,750.5 L446.8,749.3 L454.5,731 Q454.9,729 454,727.3 L444.6,717.5 Q443.2,716 443.2,713.4 V707.1" stroke-width="1.1"/>
<path d="M377.7,546.4 Q373.5,546.6 372.5,547.2 Q371.5,547.9 371.5,548.9 V557.9 Q371.5,559.9 373.5,560 C376.5,560 378,556.4 381,556.4 Q383.1,556.4 383.1,558.4 V577.4 Q383.1,579.4 381,579.4 C378,579.4 376.5,575.8 373.5,575.8 Q371.5,575.8 371.5,577.9 V586.9 Q371.5,588.9 373.5,589 Q376,589 377.7,588.6"/>
<path d="M377.7,628.8 Q373.5,629 372.5,629.6 Q371.5,630.3 371.5,631.3 V640.3 Q371.5,642.3 373.5,642.4 C376.5,642.4 378,638.8 381,638.8 Q383.1,638.8 383.1,640.8 V659.8 Q383.1,661.8 381,661.8 C378,661.8 376.5,658.2 373.5,658.2 Q371.5,658.2 371.5,660.3 V669.3 Q371.5,671.3 373.5,671.4 Q376,671.4 377.7,671"/>
<line x1="377.7" y1="524.8" x2="377.7" y2="546.4"/>
<line x1="377.7" y1="551" x2="377.7" y2="557"/>
<line x1="377.7" y1="561" x2="377.7" y2="575"/>
<line x1="377.7" y1="580" x2="377.7" y2="587"/>
<line x1="377.7" y1="588.6" x2="377.7" y2="628.8"/>
<line x1="377.7" y1="633" x2="377.7" y2="639"/>
<line x1="377.7" y1="643" x2="377.7" y2="657"/>
<line x1="377.7" y1="662" x2="377.7" y2="669"/>
<line x1="377.7" y1="671" x2="377.7" y2="715"/>
<line x1="377.7" y1="718" x2="377.7" y2="724"/>
<line x1="377.7" y1="730" x2="377.7" y2="751.5"/>
<line x1="308.6" y1="707.1" x2="446.8" y2="707.1" stroke-width="1.5"/>
<line x1="312.2" y1="713.4" x2="443.2" y2="713.4" stroke-width="1.2"/>
<path d="M337.2,713.4 V742.5 Q337.4,745.4 339.1,745.4 H342.3 Q344,745.4 344.2,742.5 V713.4" stroke-width="1.1"/>
<line x1="340.7" y1="709.4" x2="340.7" y2="750.1" style="stroke:#555;stroke-width:1.5"/>
<path d="M363.8,713.4 V742.5 Q364,745.4 365.7,745.4 H368.9 Q370.6,745.4 370.8,742.5 V713.4" stroke-width="1.1"/>
<line x1="367.3" y1="709.4" x2="367.3" y2="750.1" style="stroke:#555;stroke-width:1.5"/>
<path d="M384.8,713.4 V742.5 Q385,745.4 386.7,745.4 H389.9 Q391.6,745.4 391.8,742.5 V713.4" stroke-width="1.1"/>
<line x1="388.3" y1="709.4" x2="388.3" y2="750.1" style="stroke:#555;stroke-width:1.5"/>
<path d="M411.3,713.4 V742.5 Q411.5,745.4 413.2,745.4 H416.4 Q418.1,745.4 418.3,742.5 V713.4" stroke-width="1.1"/>
<line x1="414.8" y1="709.4" x2="414.8" y2="750.1" style="stroke:#555;stroke-width:1.5"/>
<line x1="337.2" y1="745.4" x2="337.2" y2="770.1"/>
<line x1="344.3" y1="745.4" x2="344.3" y2="770.1"/>
<line x1="340.7" y1="752.1" x2="340.7" y2="802.8"/>
<line x1="414.8" y1="752.1" x2="414.8" y2="802.8"/>
<line x1="367.3" y1="752.1" x2="367.3" y2="786"/>
<line x1="388.3" y1="752.1" x2="388.3" y2="786"/>
<line x1="291.3" y1="768.3" x2="337.2" y2="768.3"/>
<path class="ar" d="M337.2,768.3 L328.7,769.8 L328.7,766.8Z"/>
<line x1="337.2" y1="768.3" x2="364" y2="768.3"/>
<path class="ar" d="M344.3,768.3 L352.8,766.8 L352.8,769.8Z"/>
<text x="265.6" y="772.2" font-size="10.5" class="d" textLength="22.4" lengthAdjust="spacingAndGlyphs">0.66</text>
<line x1="335.2" y1="784.4" x2="407.8" y2="784.4"/>
<path class="ar" d="M367.3,784.4 L358.8,785.9 L358.8,782.9Z"/>
<path class="ar" d="M388.3,784.4 L396.8,782.9 L396.8,785.9Z"/>
<text x="310.8" y="788.2" font-size="10.5" class="d" textLength="21.6" lengthAdjust="spacingAndGlyphs">2.00</text>
<line x1="340.7" y1="801.1" x2="364.4" y2="801.1"/>
<line x1="391.4" y1="801.1" x2="414.8" y2="801.1"/>
<path class="ar" d="M340.7,801.1 L349.2,799.6 L349.2,802.6Z"/>
<path class="ar" d="M414.8,801.1 L406.3,802.6 L406.3,799.6Z"/>
<text x="377.9" y="804.88" font-size="10.5" text-anchor="middle" class="d" textLength="21" lengthAdjust="spacingAndGlyphs">7.00</text>
<line x1="297.3" y1="731" x2="297.3" y2="822.3"/>
<line x1="458.3" y1="731" x2="458.3" y2="822.3"/>
<line x1="297.3" y1="820.6" x2="361.15" y2="820.6"/>
<line x1="394.65" y1="820.6" x2="458.3" y2="820.6"/>
<path class="ar" d="M297.3,820.6 L305.8,819.1 L305.8,822.1Z"/>
<path class="ar" d="M458.3,820.6 L449.8,822.1 L449.8,819.1Z"/>
<text x="377.9" y="824.38" font-size="10.5" text-anchor="middle" class="d" textLength="27.5" lengthAdjust="spacingAndGlyphs">15.20</text>
</g>
<g id="pcb">
<circle cx="697.6" cy="676.6" r="4.85"/>
<line x1="697.6" y1="665.8" x2="697.6" y2="686.8"/>
<circle cx="724.1" cy="676.6" r="4.85"/>
<line x1="724.1" y1="665.8" x2="724.1" y2="686.8"/>
<circle cx="745.2" cy="676.6" r="4.85"/>
<line x1="745.2" y1="665.8" x2="745.2" y2="686.8"/>
<circle cx="771.6" cy="676.6" r="4.85"/>
<line x1="771.6" y1="665.8" x2="771.6" y2="686.8"/>
<line x1="687" y1="676.6" x2="708.8" y2="676.6"/>
<line x1="713.5" y1="676.6" x2="756.3" y2="676.6"/>
<line x1="761" y1="676.6" x2="783" y2="676.6"/>
<circle cx="697.6" cy="766.1" r="4.85"/>
<line x1="697.6" y1="755.3" x2="697.6" y2="776.3"/>
<circle cx="724.1" cy="766.1" r="4.85"/>
<line x1="724.1" y1="755.3" x2="724.1" y2="776.3"/>
<circle cx="745.2" cy="766.1" r="4.85"/>
<line x1="745.2" y1="755.3" x2="745.2" y2="776.3"/>
<circle cx="771.6" cy="766.1" r="4.85"/>
<line x1="771.6" y1="755.3" x2="771.6" y2="776.3"/>
<line x1="687" y1="766.1" x2="708.8" y2="766.1"/>
<line x1="713.5" y1="766.1" x2="756.3" y2="766.1"/>
<line x1="761" y1="766.1" x2="783" y2="766.1"/>
<circle cx="665.4" cy="697.8" r="12.1" stroke-width="1.1"/>
<line x1="657.4" y1="697.8" x2="673.4" y2="697.8"/>
<line x1="665.4" y1="689.8" x2="665.4" y2="705.8"/>
<circle cx="804.3" cy="697.8" r="12.1" stroke-width="1.1"/>
<line x1="796.3" y1="697.8" x2="812.3" y2="697.8"/>
<line x1="804.3" y1="689.8" x2="804.3" y2="705.8"/>
<circle cx="665.4" cy="769.8" r="12.1" stroke-width="1.1"/>
<line x1="657.4" y1="769.8" x2="673.4" y2="769.8"/>
<line x1="665.4" y1="761.8" x2="665.4" y2="777.8"/>
<circle cx="804.3" cy="769.8" r="12.1" stroke-width="1.1"/>
<line x1="796.3" y1="769.8" x2="812.3" y2="769.8"/>
<line x1="804.3" y1="761.8" x2="804.3" y2="777.8"/>
<text x="701.3" y="692.6" font-size="7.5" text-anchor="middle">1</text>
<text x="701.3" y="780.8" font-size="7.5" text-anchor="middle">1</text>
<text x="729.7" y="692.6" font-size="7.5" text-anchor="middle">2</text>
<text x="729.7" y="780.8" font-size="7.5" text-anchor="middle">2</text>
<text x="752.6" y="692.6" font-size="7.5" text-anchor="middle">3</text>
<text x="752.6" y="780.8" font-size="7.5" text-anchor="middle">3</text>
<text x="781" y="692.6" font-size="7.5" text-anchor="middle">4</text>
<text x="781" y="780.8" font-size="7.5" text-anchor="middle">4</text>
<line x1="734.7" y1="658.3" x2="734.7" y2="796.2" stroke-dasharray="24 4 8 4 24 4 8 4 24 4 8 4 24 4 100"/>
<line x1="628.6" y1="697.8" x2="653.3" y2="697.8"/>
<line x1="628.6" y1="769.8" x2="653.3" y2="769.8"/>
<line x1="630.1" y1="697.8" x2="630.1" y2="720.3"/>
<line x1="630.1" y1="747.3" x2="630.1" y2="769.8"/>
<path class="ar" d="M630.1,697.8 L631.6,706.3 L628.6,706.3Z"/>
<path class="ar" d="M630.1,769.8 L628.6,761.3 L631.6,761.3Z"/>
<text x="633.88" y="733.8" font-size="10.5" text-anchor="middle" class="d" transform="rotate(-90 633.88 733.8)" textLength="21" lengthAdjust="spacingAndGlyphs">6.80</text>
<line x1="784" y1="676.6" x2="852.4" y2="676.6"/>
<line x1="784" y1="766.1" x2="852.4" y2="766.1"/>
<line x1="850.5" y1="676.6" x2="850.5" y2="707.85"/>
<line x1="850.5" y1="734.85" x2="850.5" y2="766.1"/>
<path class="ar" d="M850.5,676.6 L852,685.1 L849,685.1Z"/>
<path class="ar" d="M850.5,766.1 L849,757.6 L852,757.6Z"/>
<text x="854.28" y="721.35" font-size="10.5" text-anchor="middle" class="d" transform="rotate(-90 854.28 721.35)" textLength="21" lengthAdjust="spacingAndGlyphs">8.50</text>
<line x1="816.4" y1="769.8" x2="832" y2="769.8"/>
<line x1="829.6" y1="747.8" x2="829.6" y2="766.1"/>
<path class="ar" d="M829.6,766.1 L828.1,757.6 L831.1,757.6Z"/>
<line x1="829.6" y1="769.8" x2="829.6" y2="788.6"/>
<path class="ar" d="M829.6,769.8 L831.1,778.3 L828.1,778.3Z"/>
<text x="833.4" y="732.9" font-size="10.5" text-anchor="middle" class="d" transform="rotate(-90 833.4 732.9)" textLength="22" lengthAdjust="spacingAndGlyphs">0.34</text>
<line x1="762.9" y1="698.4" x2="786.2" y2="640.6"/>
<path class="ar" d="M773.41,672.1 L775.2,663.66 L777.98,664.78Z"/>
<path class="ar" d="M769.79,681.1 L768,689.54 L765.22,688.42Z"/>
<text x="790.75" y="639.2" font-size="10.5" class="d" transform="rotate(-68.04 790.75 639.2)" textLength="46" lengthAdjust="spacingAndGlyphs">8-ø0.92</text>
<line x1="789.3" y1="725.4" x2="820.7" y2="667.6"/>
<path class="ar" d="M810.08,687.17 L812.82,678.98 L815.45,680.41Z"/>
<path class="ar" d="M798.52,708.43 L795.78,716.62 L793.15,715.19Z"/>
<text x="825.38" y="666.73" font-size="10.5" class="d" transform="rotate(-61.49 825.38 666.73)" textLength="46" lengthAdjust="spacingAndGlyphs">4-ø2.30</text>
<line x1="724.1" y1="776.5" x2="724.1" y2="813.3"/>
<line x1="745.2" y1="776.5" x2="745.2" y2="813.3"/>
<line x1="705.1" y1="812" x2="774" y2="812"/>
<path class="ar" d="M724.1,812 L715.6,813.5 L715.6,810.5Z"/>
<path class="ar" d="M745.2,812 L753.7,810.5 L753.7,813.5Z"/>
<text x="776.9" y="815.9" font-size="10.5" class="d" textLength="22" lengthAdjust="spacingAndGlyphs">2.00</text>
<line x1="697.6" y1="776.5" x2="697.6" y2="830.7"/>
<line x1="771.6" y1="776.5" x2="771.6" y2="830.7"/>
<line x1="697.6" y1="829.4" x2="721.2" y2="829.4"/>
<line x1="748.2" y1="829.4" x2="771.6" y2="829.4"/>
<path class="ar" d="M697.6,829.4 L706.1,827.9 L706.1,830.9Z"/>
<path class="ar" d="M771.6,829.4 L763.1,830.9 L763.1,827.9Z"/>
<text x="734.7" y="833.18" font-size="10.5" text-anchor="middle" class="d" textLength="21" lengthAdjust="spacingAndGlyphs">7.00</text>
<line x1="665.4" y1="781.9" x2="665.4" y2="851.2"/>
<line x1="804.3" y1="781.9" x2="804.3" y2="851.2"/>
<line x1="665.4" y1="849.3" x2="718.45" y2="849.3"/>
<line x1="750.95" y1="849.3" x2="804.3" y2="849.3"/>
<path class="ar" d="M665.4,849.3 L673.9,847.8 L673.9,850.8Z"/>
<path class="ar" d="M804.3,849.3 L795.8,850.8 L795.8,847.8Z"/>
<text x="734.7" y="853.08" font-size="10.5" text-anchor="middle" class="d" textLength="26.5" lengthAdjust="spacingAndGlyphs">13.14</text>
<text x="669.7" y="879.8" font-size="10.8" class="m" textLength="131.4" lengthAdjust="spacingAndGlyphs">RECOMMENDED PCB LAYOUT</text>
<line x1="669.3" y1="883.2" x2="802" y2="883.2" stroke-width="1.3"/>
<line x1="669.3" y1="889" x2="802" y2="889" stroke-width="1.3"/>
</g>
<g id="notes">
<text x="1108.92" y="52.68" font-size="13" class="m" textLength="44.94" lengthAdjust="spacingAndGlyphs" style="fill:#8a4a4a">NOTES:</text>
<text x="1108.92" y="66.73" font-size="13" class="m" textLength="8.68" lengthAdjust="spacingAndGlyphs">1.</text>
<text x="1126.15" y="66.73" font-size="13" class="m" textLength="82.8" lengthAdjust="spacingAndGlyphs">ELECTRICAL:</text>
<text x="1126.15" y="80.56" font-size="13" class="m" textLength="10.72" lengthAdjust="spacingAndGlyphs">1)</text>
<text x="1145.86" y="80.56" font-size="13" class="m" textLength="59.45" lengthAdjust="spacing">VOLTAGE</text>
<text x="1213.86" y="80.56" font-size="13" class="m" textLength="57.86" lengthAdjust="spacing">CURRENT</text>
<text x="1280.72" y="80.56" font-size="13" class="m" textLength="112.26" lengthAdjust="spacingAndGlyphs">RATING:2AMP,30V</text>
<text x="1402.66" y="80.56" font-size="13" class="m" textLength="19.79" lengthAdjust="spacingAndGlyphs">AC:</text>
<text x="1126.15" y="94.38" font-size="13" class="m" textLength="13.44" lengthAdjust="spacingAndGlyphs">2)</text>
<text x="1148.13" y="94.38" font-size="13" class="m" textLength="77.13" lengthAdjust="spacingAndGlyphs">INSULATION</text>
<text x="1233.58" y="94.38" font-size="13" class="m" textLength="81.21" lengthAdjust="spacingAndGlyphs">RESISTANCE:</text>
<text x="1324.92" y="94.38" font-size="13" class="m" textLength="38.6" lengthAdjust="spacing">1000M</text>
<text x="1360.05" y="94.38" font-size="13" class="m" textLength="34.06" lengthAdjust="spacingAndGlyphs">ΩMIN;</text>
<text x="1126.15" y="108.21" font-size="13" class="m" textLength="13.44" lengthAdjust="spacingAndGlyphs">3)</text>
<text x="1148.13" y="108.21" font-size="13" class="m" textLength="57.18" lengthAdjust="spacing">CONTACT</text>
<text x="1213.86" y="108.21" font-size="13" class="m" textLength="81.21" lengthAdjust="spacingAndGlyphs">RESISTANCE:</text>
<text x="1306.11" y="108.21" font-size="13" class="m" textLength="23.87" lengthAdjust="spacing">30m</text>
<text x="1328.32" y="108.21" font-size="13" class="m" textLength="37.92" lengthAdjust="spacingAndGlyphs">ΩMAX;</text>
<text x="1126.15" y="122.04" font-size="13" class="m" textLength="13.44" lengthAdjust="spacingAndGlyphs">4)</text>
<text x="1148.81" y="122.04" font-size="13" class="m" textLength="95.71" lengthAdjust="spacing">WITHSTANDING</text>
<text x="1253.53" y="122.04" font-size="13" class="m" textLength="61.26" lengthAdjust="spacingAndGlyphs">VOLTAGE:</text>
<text x="1324.92" y="122.04" font-size="13" class="m" textLength="32.93" lengthAdjust="spacing">500V</text>
<text x="1366.85" y="122.04" font-size="13" class="m" textLength="20.47" lengthAdjust="spacingAndGlyphs">AC;</text>
<text x="1126.15" y="135.86" font-size="13" class="m" textLength="13.44" lengthAdjust="spacingAndGlyphs" style="fill:#8a4a4a">5)</text>
<text x="1148.13" y="135.86" font-size="13" class="m" textLength="71.46" lengthAdjust="spacing">OPERATING</text>
<text x="1229.05" y="135.86" font-size="13" class="m" textLength="131.07" lengthAdjust="spacingAndGlyphs">TEMPERATURE:-55°C</text>
<text x="1369.57" y="135.86" font-size="13" class="m" textLength="15.48" lengthAdjust="spacing">TO</text>
<text x="1394.5" y="135.86" font-size="13" class="m" textLength="41.09" lengthAdjust="spacingAndGlyphs">+85°C.</text>
<text x="1109.6" y="149.91" font-size="13" class="m" textLength="11.4" lengthAdjust="spacingAndGlyphs" style="fill:#8a4a4a">2.</text>
<text x="1128.87" y="149.91" font-size="13" class="m" textLength="30.67" lengthAdjust="spacingAndGlyphs" style="fill:#8a4a4a">Mech</text>
<text x="1158.33" y="149.91" font-size="13" class="m" textLength="46.53" lengthAdjust="spacingAndGlyphs">anical:</text>
<text x="1126.15" y="163.74" font-size="13" class="m" textLength="10.72" lengthAdjust="spacingAndGlyphs">1)</text>
<text x="1144.73" y="163.74" font-size="13" class="m" textLength="44.72" lengthAdjust="spacingAndGlyphs">Mating</text>
<text x="1197.99" y="163.74" font-size="13" class="m" textLength="44.26" lengthAdjust="spacingAndGlyphs">Force:</text>
<text x="1250.81" y="163.74" font-size="13" class="m" textLength="24.77" lengthAdjust="spacing">35N</text>
<text x="1292.06" y="163.74" font-size="13" class="m" textLength="24.32" lengthAdjust="spacing">MAX</text>
<text x="1126.15" y="177.57" font-size="13" class="m" textLength="13.44" lengthAdjust="spacingAndGlyphs">2)</text>
<text x="1148.13" y="177.57" font-size="13" class="m" textLength="60.81" lengthAdjust="spacingAndGlyphs">Unmating</text>
<text x="1217.26" y="177.57" font-size="13" class="m" textLength="44.26" lengthAdjust="spacingAndGlyphs">Force:</text>
<text x="1269.84" y="177.57" font-size="13" class="m" textLength="20.69" lengthAdjust="spacingAndGlyphs">10N</text>
<text x="1306.79" y="177.57" font-size="13" class="m" textLength="25" lengthAdjust="spacingAndGlyphs">MIN.</text>
<text x="1109.6" y="191.39" font-size="13" class="m" textLength="11.4" lengthAdjust="spacingAndGlyphs">3.</text>
<text x="1129.32" y="191.39" font-size="13" class="m" textLength="76.68" lengthAdjust="spacingAndGlyphs">DIMENSIONS</text>
<text x="1214.54" y="191.39" font-size="13" class="m" textLength="49.7" lengthAdjust="spacing">MARKED</text>
<text x="1272.11" y="191.39" font-size="13" class="m" textLength="19.33" lengthAdjust="spacingAndGlyphs">"▼"</text>
<text x="1301.12" y="191.39" font-size="13" class="m" textLength="15.25" lengthAdjust="spacing">TO</text>
<text x="1325.6" y="191.39" font-size="13" class="m" textLength="15.25" lengthAdjust="spacing">BE</text>
<text x="1349.85" y="191.39" font-size="13" class="m" textLength="57.86" lengthAdjust="spacing">CHECKED</text>
<text x="1126.15" y="204.99" font-size="13" class="m" textLength="15.71" lengthAdjust="spacing">BY</text>
<text x="1151.08" y="204.99" font-size="13" class="m" textLength="18.65" lengthAdjust="spacingAndGlyphs">Q.C</text>
<text x="1178.88" y="204.99" font-size="13" class="m">&amp;</text>
<text x="1195.73" y="204.99" font-size="13" class="m" textLength="32.93" lengthAdjust="spacingAndGlyphs">IPQC.</text>
<text x="1124.33" y="232.19" font-size="13" class="m" textLength="10.27" lengthAdjust="spacingAndGlyphs">4.</text>
<text x="1142.92" y="232.19" font-size="13" class="m" textLength="32.48" lengthAdjust="spacing">PART</text>
<text x="1184.4" y="232.19" font-size="13" class="m" textLength="20.01" lengthAdjust="spacingAndGlyphs">NO.</text>
<line x1="1202.6" y1="275" x2="1202.6" y2="315.6" stroke-width="1.3"/>
<line x1="1179.9" y1="315.6" x2="1202.6" y2="315.6" stroke-width="1.3"/>
<line x1="1225.2" y1="275" x2="1225.2" y2="315.6" stroke-width="1.3"/>
<line x1="1225.2" y1="315.6" x2="1249.4" y2="315.6" stroke-width="1.3"/>
<line x1="1231.6" y1="275" x2="1231.6" y2="292" stroke-width="1.3"/>
<line x1="1231.6" y1="292" x2="1249.4" y2="292" stroke-width="1.3"/>
<text x="1253.6" y="294.6" font-size="8.2" textLength="30.2" lengthAdjust="spacingAndGlyphs">W:WHITE</text>
<text x="1253.6" y="304.6" font-size="8.2" textLength="28.5" lengthAdjust="spacingAndGlyphs">B:BLACK</text>
<text x="1253.6" y="319.5" font-size="8.2" textLength="17.5" lengthAdjust="spacingAndGlyphs">1:PBT</text>
<text x="1253.6" y="329.2" font-size="8.2" textLength="23.5" lengthAdjust="spacingAndGlyphs">2:PA6T</text>
<text x="1253.6" y="338.6" font-size="8.2" textLength="23.5" lengthAdjust="spacingAndGlyphs">3:PA9T</text>
<text x="1253.6" y="348.5" font-size="8.2" textLength="19" lengthAdjust="spacingAndGlyphs">4:LCP</text>
<text x="1149" y="319.5" font-size="8.2" textLength="29.6" lengthAdjust="spacingAndGlyphs">1:Au  1U"</text>
<text x="1149" y="329.2" font-size="8.2" textLength="35.6" lengthAdjust="spacingAndGlyphs">6:Au  30U"</text>
</g>
</g>
</svg>
</body></html>
